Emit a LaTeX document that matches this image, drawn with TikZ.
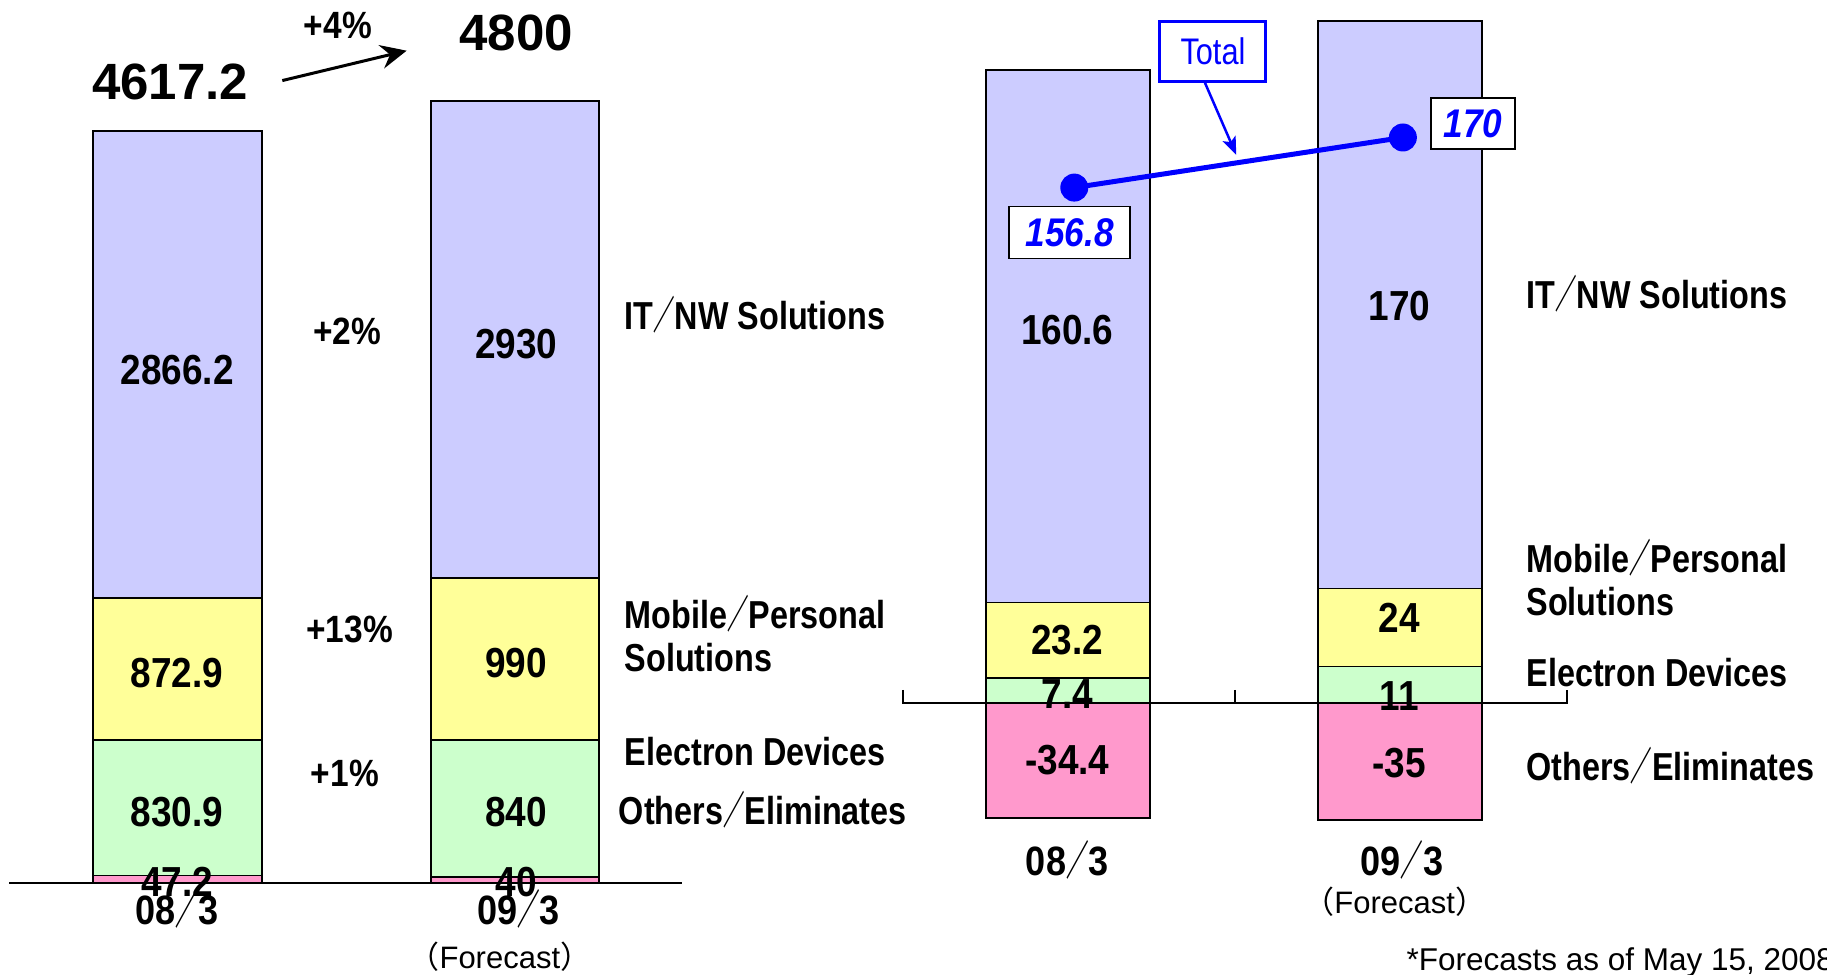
\documentclass[tikz,border=0pt]{standalone}
\usepackage{fontspec}
\setmainfont{Liberation Sans}
\newfontfamily\numf{Liberation Sans}[FakeStretch=0.88]
\newfontfamily\labf{Liberation Sans}[FakeStretch=0.83]
\newfontfamily\cjkf{Noto Sans CJK JP}
\newfontfamily\cjkslash{Noto Sans CJK JP}[FakeStretch=0.55]
\newcommand\fwslash{{\cjkslash ／}}
\newcommand\fwlp{{\cjkf （}}
\newcommand\fwrp{{\cjkf ）}}
\usetikzlibrary{arrows.meta}

\definecolor{itblue}{HTML}{CCCCFF}
\definecolor{mpyel}{HTML}{FFFF99}
\definecolor{edgrn}{HTML}{CCFFCC}
\definecolor{otpnk}{HTML}{FF99CC}
\definecolor{tblue}{HTML}{0000FF}

\begin{document}
\begin{tikzpicture}[x=1.1652pt, y=-1.1652pt,
  seg/.style={draw=black, line width=1.8pt},
  itc/.style={seg, fill=itblue},
  mpc/.style={seg, fill=mpyel},
  edc/.style={seg, fill=edgrn},
  otc/.style={seg, fill=otpnk},
  axisline/.style={draw=black, line width=1.8pt},
  num/.style={font=\numf\bfseries\fontsize{42}{42}\selectfont, inner sep=0pt},
  bignum/.style={font=\bfseries\fontsize{51}{51}\selectfont, inner sep=0pt},
  pct/.style={font=\numf\bfseries\fontsize{38}{38}\selectfont, inner sep=0pt},
  cat/.style={font=\numf\bfseries\fontsize{41}{41}\selectfont, inner sep=0pt},
  fcst/.style={font=\fontsize{31}{31}\selectfont, inner sep=0pt},
  lab/.style={font=\labf\bfseries\fontsize{39}{43}\selectfont, align=left, anchor=west, inner sep=0pt},
  valbox/.style={draw=black, line width=1.5pt, fill=white, text=tblue,
    font=\numf\bfseries\itshape\fontsize{40}{40}\selectfont, inner sep=0pt},
  dot/.style={circle, fill=tblue, inner sep=0pt, minimum size=28pt}
]
\useasboundingbox (0,0) rectangle (1568,836);

% ---------------- Net sales ----------------
% 08/3
\draw[itc] (80,112.2) rectangle (225,513.1);
\draw[mpc] (80,513.1) rectangle (225,635.2);
\draw[edc] (80,635.2) rectangle (225,751.4);
\draw[otc] (80,751.4) rectangle (225,758);
% 09/3
\draw[itc] (370,87) rectangle (514,496.4);
\draw[mpc] (370,496.4) rectangle (514,634.9);
\draw[edc] (370,634.9) rectangle (514,752.4);
\draw[otc] (370,752.4) rectangle (514,758);
% axis
\draw[axisline] (8,758) -- (585,758);

\node[bignum] (s08) at (146,70) {4617.2};
\node[bignum] (s09) at (443,28) {4800};
\node[pct] (g4) at (290,22) {+4\%};
\coordinate (sgtip) at (349,43.5);
\draw[line width=3pt, -{Stealth[length=26pt, width=24pt, inset=9pt]}]
  ([xshift=34pt,yshift=1pt]s08.east) -- (sgtip);

\node[num] (a1) at (152,318) {2866.2};
\node[num] (a2) at (443,295) {2930};
\node[num] (b1) at (152,578) {872.9};
\node[num] (b2) at (443,569) {990};
\node[num] (c1) at (152,697) {830.9};
\node[num] (c2) at (443,697) {840};
\node[num] (d1) at (152,757) {47.2};
\node[num] (d2) at (443,757) {40};

\node[pct] (gA) at (298,284) {+2\%};
\node[pct] (gB) at (300,540) {+13\%};
\node[pct] (gC) at (296,664) {+1\%};

\node[cat] (x1) at (152,780) {08\fwslash 3};
\node[cat] (x2) at (445,780) {09\fwslash 3};
\node[fcst] (f1) at (429,821) {\fwlp Forecast\fwrp};

\node[lab] (L1) at (536,270) {IT\fwslash NW Solutions};
\node[lab] (L2) at (536,544) {Mobile\fwslash Personal\\Solutions};
\node[lab] (L3) at (536,645) {Electron Devices};
\node[lab] (L4) at (531,695) {Others\fwslash Eliminates};

% ---------------- Operating income ----------------
% 08/3
\draw[itc] (846,60) rectangle (987,517);
\draw[mpc] (846,517) rectangle (987,582);
\draw[edc] (846,582) rectangle (987,603.5);
\draw[otc] (846,603.5) rectangle (987,701.7);
% 09/3
\draw[itc] (1131,18) rectangle (1272,505);
\draw[mpc] (1131,505) rectangle (1272,572);
\draw[edc] (1131,572) rectangle (1272,603.5);
\draw[otc] (1131,603.5) rectangle (1272,703.7);
% axis with ticks
\draw[axisline, line width=1.6pt] (775,592) -- (775,603.5) -- (1345,603.5) -- (1345,592);
\draw[axisline, line width=1.6pt] (1060,592) -- (1060,603.5);

\node[num] (p1) at (916,283) {160.6};
\node[num] (p2) at (1201,263) {170};
\node[num] (q1) at (916,549) {23.2};
\node[num] (q2) at (1201,530) {24};
\node[num] (r1) at (916,596) {7.4};
\node[num] (r2) at (1201,597) {11};
\node[num] (o1) at (916,652) {-34.4};
\node[num] (o2) at (1201,655) {-35};

\node[cat] (y1) at (916,738) {08\fwslash 3};
\node[cat] (y2) at (1203,738) {09\fwslash 3};
\node[fcst] (f2) at (1197,774) {\fwlp Forecast\fwrp};

\node[lab] (R1) at (1310,252) {IT\fwslash NW Solutions};
\node[lab] (R2) at (1310,496) {Mobile\fwslash Personal\\Solutions};
\node[lab] (R3) at (1310,577) {Electron Devices};
\node[lab] (R4) at (1310,657) {Others\fwslash Eliminates};

% total line
\node[dot] (t1) at (922,161) {};
\node[dot] (t2) at (1204,118) {};
\draw[tblue, line width=5pt] (t1.center) -- (t2.center);
\node[valbox, minimum width=121pt, minimum height=52pt] (v1) at (918,199.5) {156.8};
\node[valbox, minimum width=84pt, minimum height=51pt] (v2) at (1264,106) {170};

\node[draw=tblue, line width=3pt, fill=white, text=tblue, inner sep=0pt,
  minimum width=106pt, minimum height=60pt,
  font=\labf\fontsize{37}{37}\selectfont] (tot) at (1041,44) {Total};
\coordinate (totip) at (1061,133);
\draw[tblue, line width=2.5pt, -{Stealth[length=18pt, width=14pt, inset=4pt]}]
  ([xshift=-8pt]tot.south) -- (totip);

\node[font=\fontsize{31.5}{31.5}\selectfont, anchor=base west, inner sep=0pt] (note) at (1207,833)
  {*Forecasts as of May 15, 2008};
\end{tikzpicture}
\end{document}
